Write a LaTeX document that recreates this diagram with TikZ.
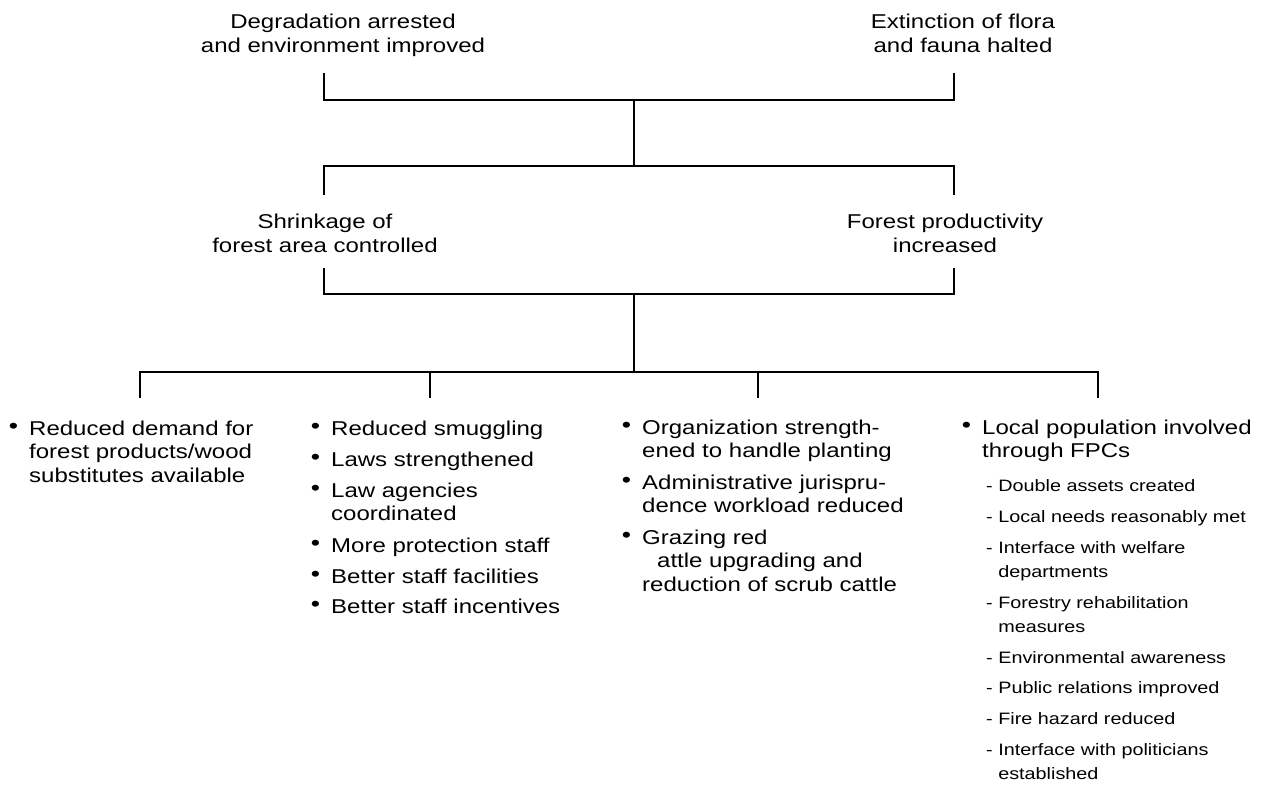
\documentclass[tikz,border=0pt]{standalone}
\usepackage{fontspec}
\setmainfont{Liberation Sans}[FakeStretch=1.2]
\begin{document}
\begin{tikzpicture}[x=1pt,y=-1pt,
  conn/.style={line width=1.5pt},
  head/.style={anchor=base, inner sep=0pt, text width=340pt, align=center,
    font=\fontsize{20}{24}\selectfont},
  item/.style={anchor=base west, inner sep=0pt, text width=290pt, align=left,
    font=\fontsize{20}{23.5}\selectfont},
  sub/.style={anchor=base west, inner sep=0pt, text width=290pt, align=left,
    font=\fontsize{16.5}{24}\selectfont}]
\newcommand{\bul}{\llap{\raisebox{1.5pt}{\fontsize{22}{22}\selectfont\textbullet}\hspace{11pt}}}
\newcommand{\dsh}{-\ }
\useasboundingbox (0,0) rectangle (1265,786);
\fill[white] (0,0) rectangle (1265,786);

% top level
\node[head] (t1) at (343,29) {Degradation arrested\\and environment improved};
\node[head] (t2) at (963,29) {Extinction of flora\\and fauna halted};
% middle level
\node[head] (m1) at (325,229) {Shrinkage of\\forest area controlled};
\node[head] (m2) at (945,229) {Forest productivity\\increased};

% column 1
\node[item] (c1a) at (29,435) {\bul Reduced demand for\\forest products/wood\\substitutes available};
% column 2
\node[item] (c2a) at (331,435) {\bul Reduced smuggling};
\node[item] (c2b) at (331,466) {\bul Laws strengthened};
\node[item] (c2c) at (331,497) {\bul Law agencies\\coordinated};
\node[item] (c2d) at (331,552) {\bul More protection staff};
\node[item] (c2e) at (331,583) {\bul Better staff facilities};
\node[item] (c2f) at (331,613) {\bul Better staff incentives};
% column 3
\node[item] (c3a) at (642,434) {\bul Organization strength-\\ened to handle planting};
\node[item] (c3b) at (642,489) {\bul Administrative jurispru-\\dence workload reduced};
\node[item] (c3c) at (642,544) {\bul Grazing red\\\hspace*{15pt}attle upgrading and\\reduction of scrub cattle};
% column 4
\node[item] (c4a) at (982,434) {\bul Local population involved\\through FPCs};
\node[sub] (s1) at (986,491) {\dsh Double assets created};
\node[sub] (s2) at (986,522) {\dsh Local needs reasonably met};
\node[sub] (s3) at (986,553) {\dsh Interface with welfare\\\phantom{\dsh}departments};
\node[sub] (s4) at (986,608) {\dsh Forestry rehabilitation\\\phantom{\dsh}measures};
\node[sub] (s5) at (986,663) {\dsh Environmental awareness};
\node[sub] (s6) at (986,693) {\dsh Public relations improved};
\node[sub] (s7) at (986,724) {\dsh Fire hazard reduced};
\node[sub] (s8) at (986,755) {\dsh Interface with politicians\\\phantom{\dsh}established};

% connector joints
\coordinate (t1b) at (324,73);
\coordinate (t2b) at (954,73);
\coordinate (j1) at (634,100);
\coordinate (j2) at (634,166);
\coordinate (m1t) at (324,195);
\coordinate (m2t) at (954,195);
\coordinate (m1b) at (324,268);
\coordinate (m2b) at (954,268);
\coordinate (j3) at (634,294);
\coordinate (j4) at (634,372);
\coordinate (c1t) at (140,398);
\coordinate (c2t) at (430,398);
\coordinate (c3t) at (758,398);
\coordinate (c4t) at (1098,398);
\coordinate (h1) at (140,372);
\coordinate (h2) at (430,372);
\coordinate (h3) at (758,372);
\coordinate (h4) at (1098,372);

\draw[conn] (t1b) |- (j1) -| (t2b);
\draw[conn] (j1) -- (j2);
\draw[conn] (m1t) |- (j2) -| (m2t);
\draw[conn] (m1b) |- (j3) -| (m2b);
\draw[conn] (j3) -- (j4);
\draw[conn] (c1t) |- (h4) -- (c4t);
\draw[conn] (h2) -- (c2t);
\draw[conn] (h3) -- (c3t);
\end{tikzpicture}
\end{document}
